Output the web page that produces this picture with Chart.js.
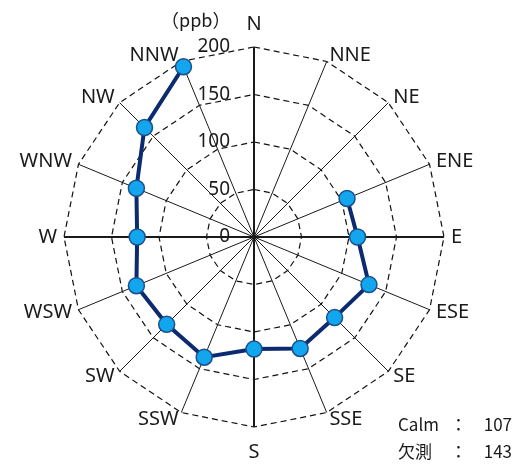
<!DOCTYPE html>
<html lang="ja">
  <head>
    <meta charset="UTF-8" />
    <title>風向別濃度</title>
    <script src="https://cdn.jsdelivr.net/npm/chart.js@4.4.0/dist/chart.umd.min.js"></script>
    <style>
      body { margin: 0; background: #fff; }
      #wrap { width: 520px; height: 465px; position: relative; }
    </style>
  </head>
  <body>
  <div id="wrap"><canvas id="roseChart" width="520" height="465"></canvas></div>

  <script>
    // directions, clockwise from north
    const directions = ['N', 'NNE', 'NE', 'ENE', 'E', 'ESE', 'SE', 'SSE',
                        'S', 'SSW', 'SW', 'WSW', 'W', 'WNW', 'NW', 'NNW'];

    // concentration per direction (ppb), null = no data
    const concentration = [null, null, null, 106, 109, 131, 120, 127,
                           118, 137, 130, 134, 123, 134, 163, 194];

    const tickValues = [0, 50, 100, 150, 200];
    const unitLabel = '（ppb）';
    const calmCount = 107;
    const missingCount = 143;

    const LATIN = '"Noto Sans", "DejaVu Sans", sans-serif';
    const CJK = '"Noto Sans CJK JP", "Noto Sans", sans-serif';

    // direction names, value labels and the counts in the corner
    const extraText = {
      id: 'extraText',
      afterDraw(chart) {
        const ctx = chart.ctx;
        const r = chart.scales.r;
        ctx.save();
        ctx.fillStyle = '#1a1a1a';
        ctx.textBaseline = 'middle';

        // direction labels just outside the end of each spoke
        ctx.font = '20px ' + LATIN;
        directions.forEach((name, i) => {
          const a = r.getIndexAngle(i);
          const p = r.getPointPosition(i, r.drawingArea + 7);
          let y = p.y;
          if (Math.abs(Math.sin(a)) < 0.01) {
            ctx.textAlign = 'center';
            y += Math.cos(a) > 0 ? -16 : 18;
          } else {
            ctx.textAlign = Math.sin(a) > 0 ? 'left' : 'right';
          }
          ctx.fillText(name, p.x, y);
        });

        // radial values, left of the north spoke
        ctx.font = '19px ' + LATIN;
        ctx.textAlign = 'right';
        tickValues.forEach(v => {
          const d = r.getDistanceFromCenterForValue(v);
          ctx.fillText(String(v), r.xCenter - 24, r.yCenter - d);
        });

        ctx.font = '18px ' + CJK;
        ctx.textAlign = 'left';
        ctx.fillText(unitLabel, 161, 20);

        ctx.font = '17px ' + CJK;
        ctx.fillText('Calm', 398, 425);
        ctx.fillText('欠測', 398, 452);
        ctx.fillText('：', 450, 425);
        ctx.fillText('：', 450, 452);
        ctx.textAlign = 'right';
        ctx.fillText(String(calmCount), 512, 425);
        ctx.fillText(String(missingCount), 512, 452);
        ctx.restore();
      }
    };

    const ctx = document.getElementById('roseChart').getContext('2d');
    const roseChart = new Chart(ctx, {
      type: 'radar',
      data: {
        labels: directions,
        datasets: [{
          data: concentration,
          borderColor: '#0b2a6f',
          borderWidth: 4,
          fill: false,
          pointRadius: 8,
          pointHoverRadius: 8,
          pointBackgroundColor: '#12a6ee',
          pointBorderColor: '#1d4f8c',
          pointBorderWidth: 1.5,
          spanGaps: false,
          tension: 0
        }]
      },
      options: {
        responsive: false,
        animation: false,
        layout: { padding: { top: 47, bottom: 38, left: 64, right: 76 } },
        plugins: {
          legend: { display: false },
          tooltip: { enabled: false }
        },
        scales: {
          r: {
            min: 0,
            max: 200,
            ticks: { stepSize: 50, display: false },
            grid: {
              color: '#111',
              lineWidth: 1.2
            },
            border: { dash: [6, 4] },
            angleLines: {
              color: '#1a1a1a',
              lineWidth: c => (c.index % 4 === 0 ? 2 : 1)
            },
            pointLabels: { display: false }
          }
        }
      },
      plugins: [extraText]
    });
  </script>
  </body>
</html>
